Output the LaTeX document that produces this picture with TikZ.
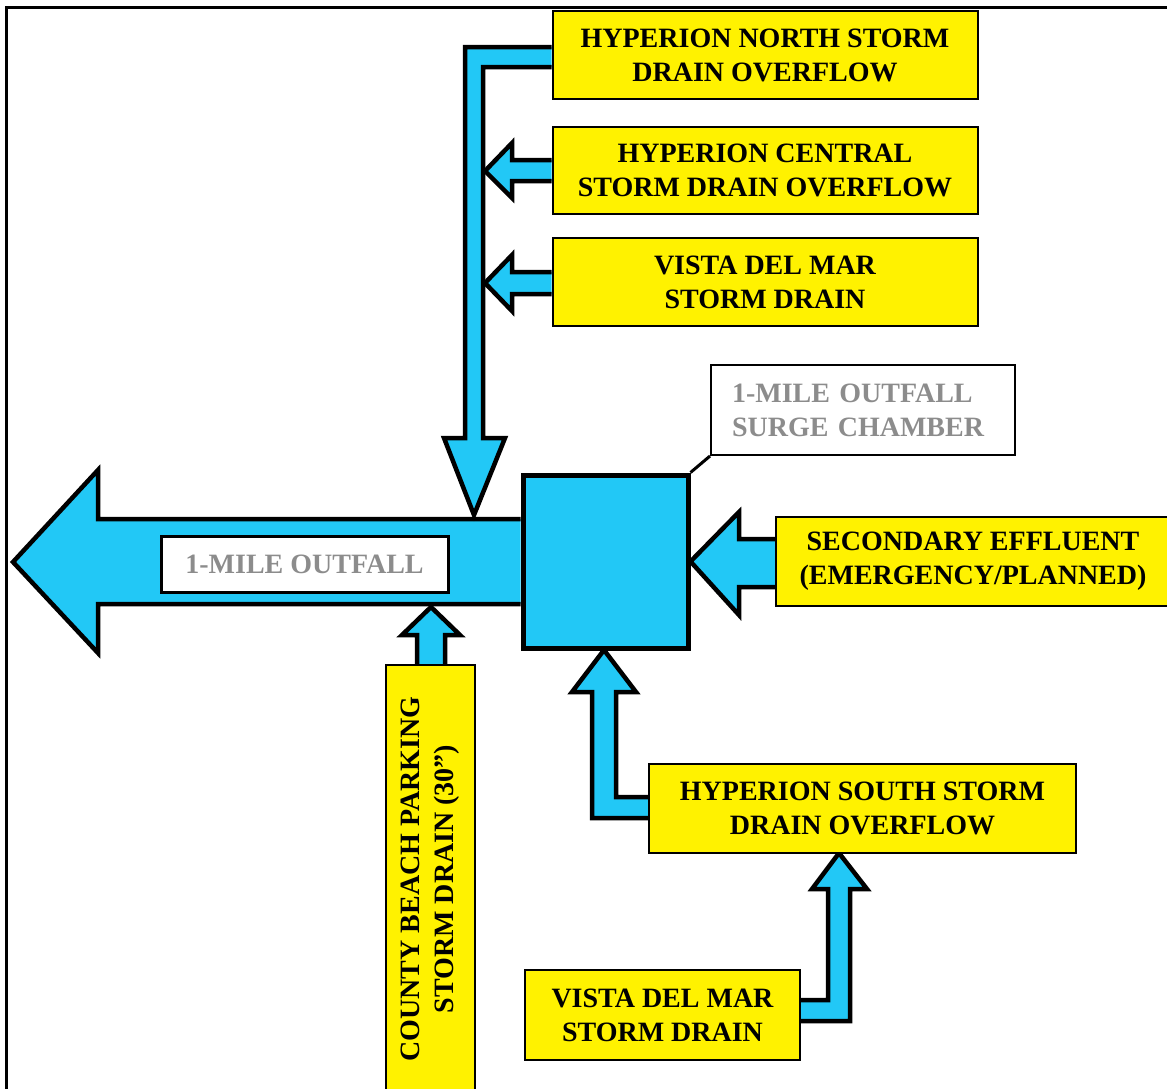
\documentclass[tikz,border=0pt]{standalone}
\usepackage{fontspec}
\setmainfont{Liberation Serif}
\usetikzlibrary{positioning, calc, backgrounds}
\definecolor{pipeBlue}{HTML}{22C8F6}
\definecolor{labelGray}{HTML}{8C8C8C}
\tikzstyle{drain} =[fill=yellow, draw, line width=2pt, align=center, inner sep=0pt, font=\bfseries\fontsize{28}{34}\selectfont]
\tikzstyle{tag} =[fill=white, draw, line width=2pt, text=labelGray, inner sep=0pt, font=\bfseries\fontsize{28}{34}\selectfont]
\tikzstyle{pipe} =[fill=pipeBlue, draw=black, line width=4.5pt, line join=miter, miter limit=10]

\begin{document}
\begin{tikzpicture}[x=1pt, y=-1pt]
\useasboundingbox (0,0) rectangle (1167,1088);
\draw[line width=3pt] (6,7) rectangle (1200,1120);

\node (north) [drain, minimum width=425pt, minimum height=88pt] at (765,55) {HYPERION NORTH STORM\\DRAIN OVERFLOW};
\node (central) [drain, minimum width=425pt, minimum height=87pt] at (765,170.5) {HYPERION CENTRAL\\STORM DRAIN OVERFLOW};
\node (vistaTop) [drain, minimum width=425pt, minimum height=88pt] at (765,282) {VISTA DEL MAR\\STORM DRAIN};

\node (chamber) [fill=pipeBlue, draw, line width=5pt, minimum width=165pt, minimum height=173pt] at (605.5,561.5) {};
\node (surge) [tag, text width=262pt, align=left, inner xsep=21pt, minimum height=90pt] at (863,410) {1-MILE OUTFALL\\SURGE CHAMBER};
\draw[line width=3pt] (surge.south west) -- (chamber.north east);

\node (outfall) [tag, line width=3pt, minimum width=287pt, minimum height=56pt] at (304.5,564) {1-MILE OUTFALL};
\node (secondary) [drain, minimum width=394pt, minimum height=89pt] at (973,561.5) {SECONDARY EFFLUENT\\(EMERGENCY/PLANNED)};

\node (county) [drain, rotate=90, minimum width=428pt, minimum height=89pt] at (430.5,879) {COUNTY BEACH PARKING\\STORM DRAIN (30”)};
\node (south) [drain, minimum width=427pt, minimum height=89pt] at (862.5,808.5) {HYPERION SOUTH STORM\\DRAIN OVERFLOW};
\node (vistaBottom) [drain, minimum width=275pt, minimum height=90pt] at (662.5,1015) {VISTA DEL MAR\\STORM DRAIN};

%pipes
\begin{scope}[on background layer]
\draw[pipe] (chamber.west |- 0,519) -- (98,519) -- (98,470) -- (13,562) -- (98,653) -- (98,604) -- (chamber.west |- 0,604);

\draw[pipe] (north.west |- 0,47) -- (465,47) -- (465,438) -- (444,438) -- (474,515) -- (505,438) -- (483,438) -- (483,67) -- (north.west |- 0,67);

\draw[pipe] (central.west |- 0,160) -- (512,160) -- (512,143) -- (485,171) -- (512,198) -- (512,181) -- (central.west |- 0,181);

\draw[pipe] (vistaTop.west |- 0,272) -- (512,272) -- (512,255) -- (485,283) -- (512,311) -- (512,294) -- (vistaTop.west |- 0,294);

\draw[pipe] (secondary.west |- 0,539) -- (739,539) -- (739,512) -- (chamber.east) -- (739,615) -- (739,587) -- (secondary.west |- 0,587);

\draw[pipe] (county.east -| 417,0) -- (417,635) -- (402,635) -- (431,607) -- (460,635) -- (445,635) -- (county.east -| 445,0);

\draw[pipe] (south.west |- 0,797) -- (616,797) -- (616,692) -- (636,692) -- (604,650) -- (572,692) -- (592,692) -- (592,818) -- (south.west |- 0,818);

\draw[pipe] (vistaBottom.east |- 0,1000) -- (828,1000) -- (828,889) -- (812,889) -- (839,853) -- (867,889) -- (850,889) -- (850,1021) -- (vistaBottom.east |- 0,1021);
\end{scope}
\end{tikzpicture}
\end{document}
